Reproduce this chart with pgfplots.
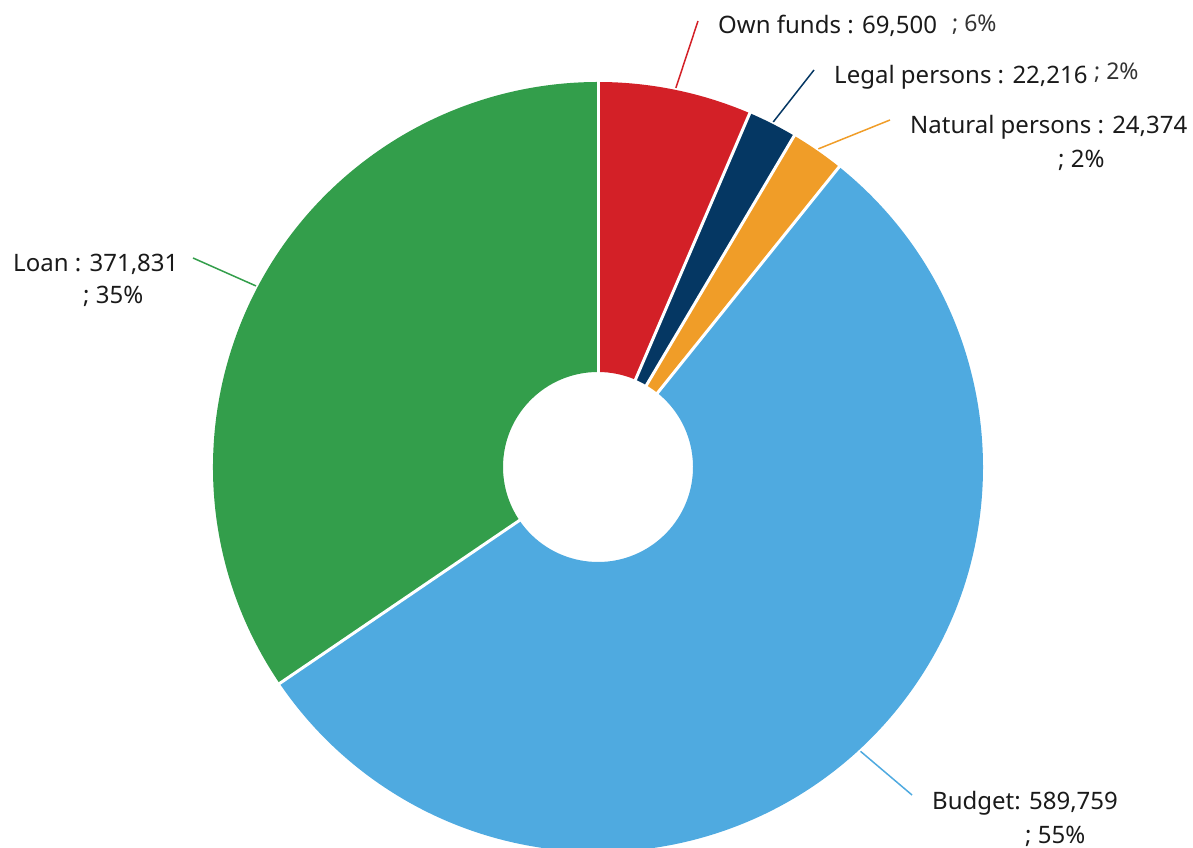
\documentclass[border=0pt]{standalone}
\usepackage{pgfplots}
\usepackage{pgfplotstable}
\pgfplotsset{compat=1.18}
\usepackage{fontspec}
\setmainfont{Noto Sans}
\definecolor{cOwn}{HTML}{D32027}
\definecolor{cLegal}{HTML}{053763}
\definecolor{cNat}{HTML}{F09D28}
\definecolor{cBud}{HTML}{4FAAE0}
\definecolor{cLoan}{HTML}{339E4B}
\definecolor{txt}{HTML}{1A1A1A}
\definecolor{txtb}{HTML}{333333}

\pgfplotstableread{
label value
Own 69500
Legal 22216
Natural 24374
Budget 589759
Loan 371831
}\donutdata

\pgfplotstablegetelem{0}{value}\of\donutdata \edef\vA{\pgfplotsretval}
\pgfplotstablegetelem{1}{value}\of\donutdata \edef\vB{\pgfplotsretval}
\pgfplotstablegetelem{2}{value}\of\donutdata \edef\vC{\pgfplotsretval}
\pgfplotstablegetelem{3}{value}\of\donutdata \edef\vD{\pgfplotsretval}
\pgfplotstablegetelem{4}{value}\of\donutdata \edef\vE{\pgfplotsretval}
\edef\tot{\fpeval{\vA+\vB+\vC+\vD+\vE}}
\edef\aA{90}
\edef\aB{\fpeval{round(\aA-360*\vA/\tot,4)}}
\edef\aC{\fpeval{round(\aB-360*\vB/\tot,4)}}
\edef\aD{\fpeval{round(\aC-360*\vC/\tot,4)}}
\edef\aE{\fpeval{round(\aD-360*\vD/\tot,4)}}
\edef\aF{\fpeval{round(\aE-360*\vE/\tot,4)}}
\edef\mA{\fpeval{(\aA+\aB)/2}}
\edef\mB{\fpeval{(\aB+\aC)/2}}
\edef\mC{\fpeval{(\aC+\aD)/2}}
\edef\mD{\fpeval{(\aD+\aE)/2}}
\edef\mE{\fpeval{(\aE+\aF)/2}}

\newcommand\donutwedge[3]{%
  \fill[#1] ([shift={(#2:95bp)}]axis cs:598,381) -- ([shift={(#2:385bp)}]axis cs:598,381)
    arc[start angle=#2, end angle=#3, radius=385bp]
    -- ([shift={(#3:95bp)}]axis cs:598,381)
    arc[start angle=#3, end angle=#2, radius=95bp] -- cycle;}
\newcommand\donutsep[1]{%
  \draw[white, line width=3bp] ([shift={(#1:90bp)}]axis cs:598,381) -- ([shift={(#1:390bp)}]axis cs:598,381);}

\begin{document}
\begin{tikzpicture}
\useasboundingbox (0,0) rectangle (1193bp,848bp);
\begin{axis}[
  at={(0,0)}, anchor=south west,
  width=1193bp, height=848bp, scale only axis,
  xmin=0, xmax=1193, ymin=0, ymax=848,
  hide axis, clip=false,
]
\donutwedge{cOwn}{\aA}{\aB}
\donutwedge{cLegal}{\aB}{\aC}
\donutwedge{cNat}{\aC}{\aD}
\donutwedge{cBud}{\aD}{\aE}
\donutwedge{cLoan}{\aE}{\aF}
\donutsep{\aA}\donutsep{\aB}\donutsep{\aC}\donutsep{\aD}\donutsep{\aE}
% leader lines
\draw[cOwn, line width=1.5bp] ([shift={(\mA:387bp)}]axis cs:598,381) -- (axis cs:698,827);
\draw[cLegal, line width=1.5bp] ([shift={(\mB:387bp)}]axis cs:598,381) -- (axis cs:814,778);
\draw[cNat, line width=1.5bp] ([shift={(\mC:387bp)}]axis cs:598,381) -- (axis cs:890,728);
\draw[cBud, line width=1.5bp] ([shift={(\mD:387bp)}]axis cs:598,381) -- (axis cs:912,53);
\draw[cLoan, line width=1.5bp] ([shift={(\mE:387bp)}]axis cs:598,381) -- (axis cs:193,590);
% labels
\tikzset{lab/.style={anchor=base west, inner sep=0pt, text=txt, font=\fontsize{24bp}{28bp}\selectfont},
         labp/.style={anchor=base west, inner sep=0pt, text=txtb, font=\fontsize{23bp}{26bp}\selectfont}}
\node[lab] at (axis cs:718,814) {Own funds : 69,500};
\node[labp] at (axis cs:952,816) {; 6\%};
\node[lab] at (axis cs:834,764) {Legal persons : 22,216};
\node[labp] at (axis cs:1094,768) {; 2\%};
\node[lab] at (axis cs:910,714) {Natural persons : 24,374};
\node[lab] at (axis cs:1058,680) {; 2\%};
\node[lab] at (axis cs:13,576) {Loan : 371,831};
\node[lab] at (axis cs:83,544) {; 35\%};
\node[lab] at (axis cs:932,38) {Budget: 589,759};
\node[lab] at (axis cs:1025,5) {; 55\%};
\end{axis}
\end{tikzpicture}
\end{document}
